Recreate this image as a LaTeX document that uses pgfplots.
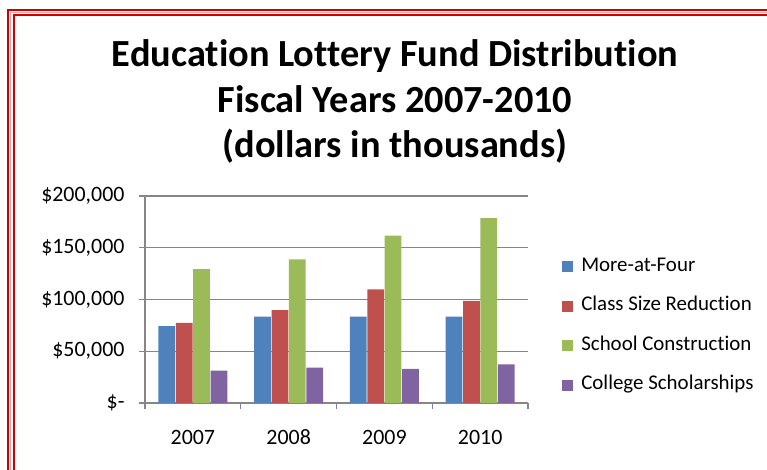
\documentclass[border=0pt]{standalone}
\usepackage{fontspec}
\setmainfont{Carlito}[Ligatures=NoCommon]
\usepackage{pgfplots}
\pgfplotsset{compat=1.18}
\definecolor{cblue}{HTML}{4F81BD}
\definecolor{cred}{HTML}{C0504D}
\definecolor{cgreen}{HTML}{9BBB59}
\definecolor{cpurple}{HTML}{8064A2}
\definecolor{gridgray}{HTML}{868686}
\definecolor{bordred}{HTML}{D00000}
\begin{document}
\begin{tikzpicture}[x=1bp,y=1bp]
\useasboundingbox (0,0) rectangle (767,470);
% border
\draw[bordred, line width=2.5bp] (8.2,0) -- (8.2,460) -- (767,460);
\draw[bordred!35, line width=1.4bp] (10.4,0) -- (10.4,457.7) -- (767,457.7);
\draw[bordred, line width=2.5bp] (13.8,0) -- (13.8,454.8) -- (767,454.8);
% title
\begin{scope}[font=\bfseries\fontsize{38.5}{46}\selectfont]
\node[anchor=base] at (395,470-67) {Education Lottery Fund Distribution};
\node[anchor=base] at (395,470-113) {Fiscal Years 2007-2010};
\node[anchor=base] at (395,470-158) {(dollars in thousands)};
\end{scope}
\begin{axis}[
  at={(145bp,67bp)}, anchor=south west,
  scale only axis, width=383bp, height=207bp,
  ymin=0, ymax=200000,
  xmin=-0.5, xmax=3.5,
  axis lines=left,
  axis line style={-, gridgray, line width=1.2bp},
  ybar=0.6bp, bar width=16.8bp,
  ytick={0,50000,100000,150000,200000},
  yticklabels={{\$-},{\$50,000},{\$100,000},{\$150,000},{\$200,000}},
  scaled y ticks=false,
  xtick={0,1,2,3},
  xticklabels={2007,2008,2009,2010},
  minor xtick={-0.5,0.5,1.5,2.5,3.5},
  tick align=outside,
  major tick length=6bp, minor tick length=6bp,
  xtick style={draw=none},
  minor x tick style={draw=gridgray, line width=1.2bp},
  ytick style={draw=gridgray, line width=1.2bp},
  ymajorgrids,
  grid style={gridgray, line width=1.2bp},
  tick label style={font=\fontsize{22}{26}\selectfont, black},
  yticklabel style={xshift=-11bp},
  xticklabel style={text height=14bp, text depth=0bp, yshift=-18bp},
  legend style={draw=none, fill=none, at={(1.089,0.372)}, anchor=west,
    row sep=22.4bp, column sep=8bp, inner sep=0bp,
    nodes={inner sep=0bp, text height=13bp, text depth=4bp, font=\fontsize{21}{25}\selectfont}},
  legend cell align=left,
  legend image code/.code={\fill[#1] (0bp,-5.5bp) rectangle (11bp,5.5bp);},
  clip=false,
]
\addplot[fill=cblue, draw=none] coordinates {(0,74200) (1,83500) (2,83500) (3,83500)};
\addplot[fill=cred, draw=none] coordinates {(0,77400) (1,89700) (2,109700) (3,98700)};
\addplot[fill=cgreen, draw=none] coordinates {(0,129400) (1,138700) (2,161600) (3,178700)};
\addplot[fill=cpurple, draw=none] coordinates {(0,31300) (1,34200) (2,32900) (3,37400)};
\legend{More-at-Four, Class Size Reduction, School Construction, College Scholarships}
\end{axis}
\end{tikzpicture}
\end{document}
